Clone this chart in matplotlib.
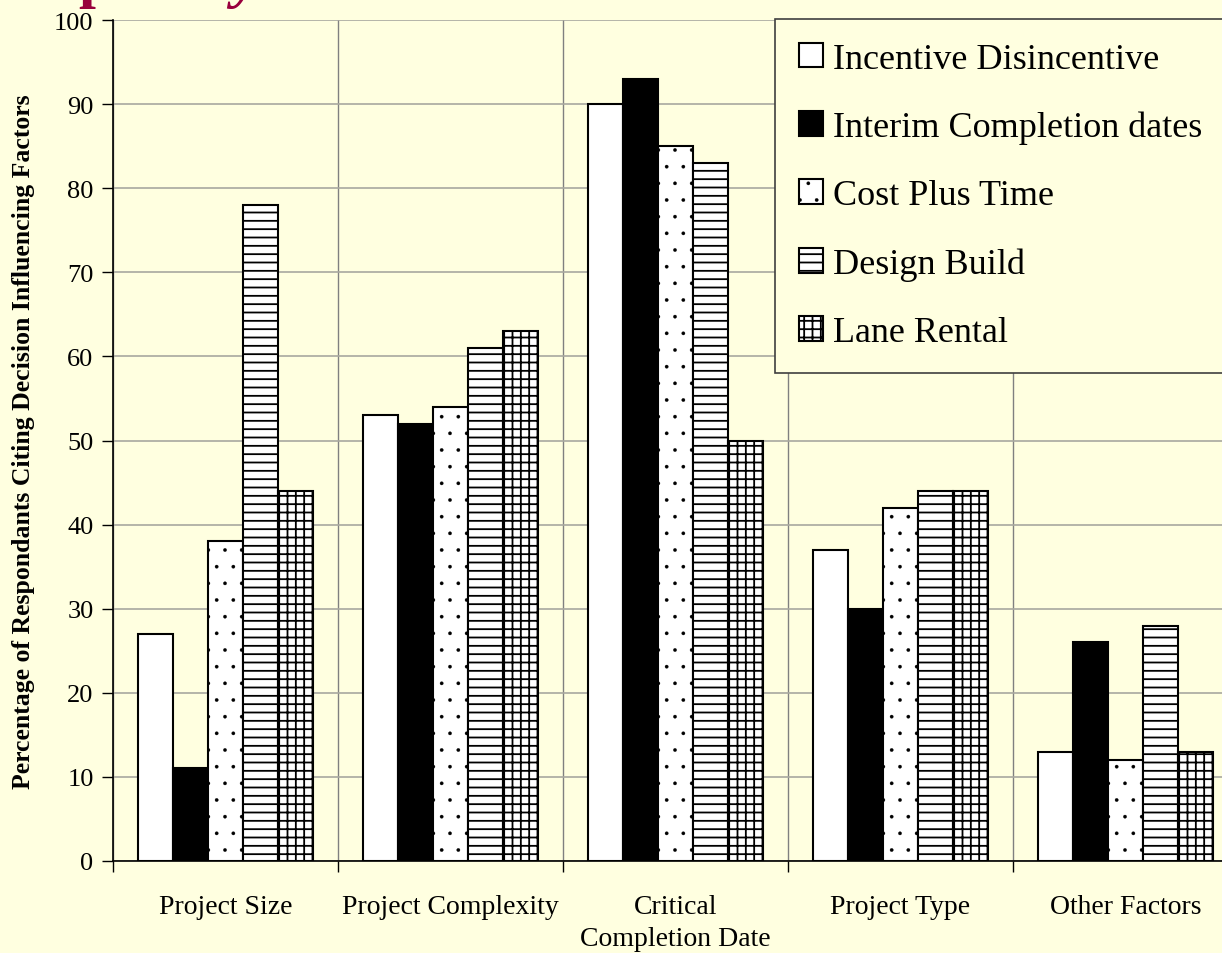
import numpy as np
import matplotlib
matplotlib.use('Agg')
import matplotlib.pyplot as plt
from matplotlib.ticker import FixedLocator, NullFormatter

# data
categories = ['Project Size', 'Project Complexity', 'Critical\nCompletion Date',
              'Project Type', 'Other Factors']
series_names = ['Incentive Disincentive', 'Interim Completion dates',
                'Cost Plus Time', 'Design Build', 'Lane Rental']
incentive = [27, 53, 90, 37, 13]
interim = [11, 52, 93, 30, 26]
cost_plus = [38, 54, 85, 42, 12]
design_build = [78, 61, 83, 44, 28]
lane_rental = [44, 63, 50, 44, 13]

series = [incentive, interim, cost_plus, design_build, lane_rental]
faces = ['white', 'black', 'white', 'white', 'white']
hatches = [None, None, '.', '--', '++']

bg = '#FFFFE0'
plt.rcParams['font.family'] = ['Liberation Serif', 'DejaVu Serif']
plt.rcParams['hatch.linewidth'] = 1.3
plt.rcParams['hatch.color'] = 'black'

fig = plt.figure(figsize=(12.22, 9.54), dpi=100, facecolor=bg)
ax = fig.add_axes([113/1222, 92/954, 1125/1222, 841/954])
ax.set_facecolor(bg)

def thin_dots(patch):
    if hasattr(patch, 'set_hatch_linewidth'):
        patch.set_hatch_linewidth(0.2)

x = np.arange(len(categories)) + 0.5
w = 0.155
for i, vals in enumerate(series):
    bars = ax.bar(x + (i - 2) * w, vals, width=w, color=faces[i], edgecolor='black',
                  linewidth=1.5, hatch=hatches[i], label=series_names[i], zorder=3)
    if hatches[i] == '.':
        for b in bars:
            thin_dots(b)

ax.set_xlim(0, 5)
ax.set_ylim(0, 100)
ax.set_yticks(np.arange(0, 101, 10))
ax.tick_params(axis='y', labelsize=19, length=8, width=1, pad=6, direction='out')

# ticks at category boundaries, labels at centres
ax.xaxis.set_major_locator(FixedLocator(np.arange(0, 6)))
ax.xaxis.set_major_formatter(NullFormatter())
ax.xaxis.set_minor_locator(FixedLocator(x))
ax.set_xticklabels(categories, minor=True, linespacing=1.35)
ax.tick_params(axis='x', which='major', length=8, width=1, direction='out')
ax.tick_params(axis='x', which='minor', length=0, labelsize=20, pad=24)

ax.grid(axis='y', color='#A8A8A0', linewidth=1.2, zorder=0)
ax.grid(axis='x', which='major', color='#808080', linewidth=1, zorder=0)
for s in ['top', 'right']:
    ax.spines[s].set_visible(False)
for s in ['left', 'bottom']:
    ax.spines[s].set_color('black')
    ax.spines[s].set_linewidth(1.2)

fig.text(24/1222, (954 - 442)/954, 'Percentage of Respondants Citing Decision Influencing Factors',
         rotation=90, ha='center', va='center', fontsize=18.5, fontweight='bold')

leg = ax.legend(loc='upper left', bbox_to_anchor=(775/1222, 934/954),
                bbox_transform=fig.transFigure, borderaxespad=0,
                fontsize=26, frameon=True, fancybox=False,
                facecolor=bg, edgecolor='#404040', framealpha=1,
                handlelength=0.67, handleheight=0.67, handletextpad=0.28,
                labelspacing=0.97, borderpad=0.66)
leg.get_frame().set_linewidth(1.2)
thin_dots(leg.legend_handles[2])

# cut-off title fragments at the very top
title_color = '#99003D'
fig.text(78/1222, 1 + 4/954, 'p', color=title_color, fontsize=44, fontweight='bold',
         va='baseline', ha='left')
fig.text(232/1222, 1 + 4/954, 'y', color=title_color, fontsize=44, fontweight='bold',
         style='italic', va='baseline', ha='left')

fig.savefig('out.png', dpi=100, facecolor=bg)
